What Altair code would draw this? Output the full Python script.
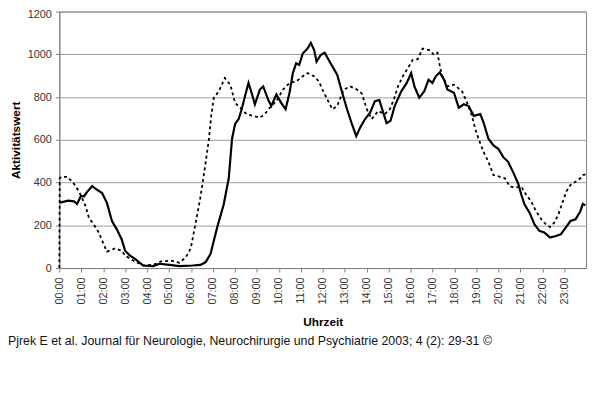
import altair as alt
import pandas as pd

# Solid line (hours, Aktivitätswert)
solid_t = [0.04, 0.40, 0.67, 0.81, 0.99, 1.12, 1.26, 1.50, 1.66, 1.95, 2.17, 2.40, 2.62, 2.84, 3.00,
           3.22, 3.45, 3.82, 4.27, 4.57, 5.02, 5.47, 6.07, 6.43, 6.67, 6.89, 7.19, 7.49, 7.72, 7.87,
           8.01, 8.17, 8.31, 8.46, 8.62, 8.76, 8.91, 9.14, 9.29, 9.51, 9.66, 9.89, 10.11, 10.31, 10.49,
           10.64, 10.79, 10.93, 11.09, 11.31, 11.46, 11.61, 11.72, 11.91, 12.09, 12.36, 12.66, 12.89,
           13.11, 13.33, 13.53, 13.71, 13.93, 14.16, 14.38, 14.58, 14.76, 14.91, 15.09, 15.28, 15.58,
           15.83, 16.03, 16.18, 16.40, 16.63, 16.82, 17.00, 17.15, 17.33, 17.53, 17.68, 17.98, 18.20,
           18.43, 18.65, 18.88, 19.18, 19.33, 19.55, 19.78, 20.00, 20.22, 20.45, 20.67, 20.90, 21.05,
           21.20, 21.43, 21.65, 21.87, 22.10, 22.36, 22.62, 22.85, 23.07, 23.29, 23.52, 23.74, 23.85, 23.97]
solid_v = [306, 315, 312, 300, 338, 335, 355, 384, 370, 351, 305, 220, 181, 135, 81,
           58, 43, 12, 9, 20, 15, 9, 12, 15, 28, 66, 189, 297, 420, 605,
           674, 697, 743, 804, 866, 820, 766, 835, 850, 789, 758, 812, 773, 743, 820,
           912, 958, 950, 1004, 1027, 1054, 1020, 966, 997, 1007, 958, 905, 820,
           743, 674, 617, 658, 697, 727, 781, 786, 727, 678, 689, 758, 827,
           866, 912, 850, 797, 827, 881, 866, 897, 915, 881, 835, 820, 750,
           766, 758, 712, 720, 681, 605, 574, 558, 520, 497, 450, 397, 343,
           297, 258, 204, 174, 166, 143, 150, 158, 189, 220, 228, 266, 300, 293]

# Dotted line
dot_t = [0.00, 0.02, 0.08, 0.37, 0.67, 0.90, 1.20, 1.35, 1.57, 1.80, 2.02, 2.17, 2.55, 2.84, 3.00,
         3.37, 3.82, 4.27, 4.64, 5.09, 5.47, 5.77, 5.99, 6.17, 6.37, 6.52, 6.67, 6.82, 6.92, 7.04,
         7.27, 7.54, 7.79, 8.01, 8.31, 8.54, 8.84, 9.14, 9.36, 9.59, 9.89, 10.19, 10.49, 10.79, 11.09,
         11.31, 11.61, 11.83, 11.99, 12.21, 12.44, 12.66, 12.96, 13.26, 13.56, 13.78, 14.01, 14.23,
         14.53, 14.83, 15.06, 15.24, 15.43, 15.65, 15.88, 16.10, 16.33, 16.55, 16.85, 17.08, 17.23,
         17.33, 17.42, 17.68, 17.98, 18.35, 18.58, 18.80, 18.95, 19.10, 19.33, 19.55, 19.78, 20.08,
         20.30, 20.53, 20.75, 21.05, 21.27, 21.50, 21.72, 21.96, 22.17, 22.36, 22.55, 22.74, 22.92,
         23.10, 23.29, 23.52, 23.74, 23.86, 23.97]
dot_v = [0, 420, 427, 427, 394, 358, 289, 235, 204, 166, 112, 77, 92, 81, 58,
         35, 12, 15, 31, 35, 25, 51, 92, 189, 297, 389, 497, 605, 712, 797,
         827, 889, 858, 773, 743, 720, 712, 704, 720, 750, 781, 835, 866, 873, 897,
         912, 897, 873, 835, 789, 743, 758, 835, 850, 835, 817, 743, 697,
         735, 720, 743, 789, 850, 897, 935, 974, 977, 1027, 1020, 997, 1007,
         950, 905, 850, 858, 827, 773, 712, 651, 605, 543, 497, 435, 427,
         420, 381, 377, 381, 343, 312, 266, 228, 204, 192, 212, 251, 305,
         358, 389, 404, 420, 435, 438]

hour_ticks = list(range(24))
y_ticks = [0, 200, 400, 600, 800, 1000, 1200]
footer = "Pjrek E et al. Journal für Neurologie, Neurochirurgie und Psychiatrie 2003; 4 (2): 29-31 ©"

FONT = "Liberation Sans"

solid_df = pd.DataFrame({"t": solid_t, "v": solid_v})
dot_df = pd.DataFrame({"t": dot_t, "v": dot_v})

x_enc = alt.X("t:Q", scale=alt.Scale(domain=[0, 24], nice=False, zero=False),
              axis=alt.Axis(values=hour_ticks, title="Uhrzeit",
                            labelExpr="(datum.value < 10 ? '0' : '') + datum.value + ':00'",
                            labelAngle=-90, labelAlign="right", labelBaseline="middle",
                            labelFontSize=11, labelColor="#333", labelFont=FONT,
                            titleFont=FONT, titleFontSize=12, titleFontWeight="bold",
                            titlePadding=13, grid=False, tickSize=4, tickColor="#808080",
                            domainColor="#808080", labelPadding=5, labelFlush=False,
                            labelOverlap=False, labelBound=False))
y_enc = alt.Y("v:Q", scale=alt.Scale(domain=[0, 1200], nice=False),
              axis=alt.Axis(values=y_ticks, title="Aktivitätswert", format="d",
                            labelFontSize=11, labelColor="#333", labelFont=FONT,
                            labelOffset={"condition": {"test": "datum.value == 1200", "value": 3},
                                         "value": 0},
                            titleFont=FONT, titleFontSize=12, titleFontWeight="bold",
                            titlePadding=5, grid=True, gridColor="#9a9a9a", gridWidth=1,
                            tickSize=4, tickColor="#808080", domainColor="#808080",
                            labelPadding=4))

solid = alt.Chart(solid_df).mark_line(color="black", strokeWidth=2.2).encode(x=x_enc, y=y_enc)
dotted = alt.Chart(dot_df).mark_line(color="black", strokeWidth=1.8,
                                     strokeDash=[3, 3]).encode(x=x_enc, y=y_enc)

foot = alt.Chart(pd.DataFrame({"txt": [footer]})).mark_text(
    align="left", baseline="alphabetic", fontSize=12.5, font=FONT, color="#111"
).encode(x=alt.value(-52), y=alt.value(338), text="txt:N")

chart = alt.layer(solid, dotted, foot).properties(
    width=534, height=260,
    autosize=alt.AutoSizeParams(type="none"),
    padding={"left": 52, "top": 1, "right": 6, "bottom": 120},
    background="white",
).configure_view(stroke="#808080", strokeWidth=1)

chart.save("out.html", embed_options={"renderer": "svg", "actions": False})
